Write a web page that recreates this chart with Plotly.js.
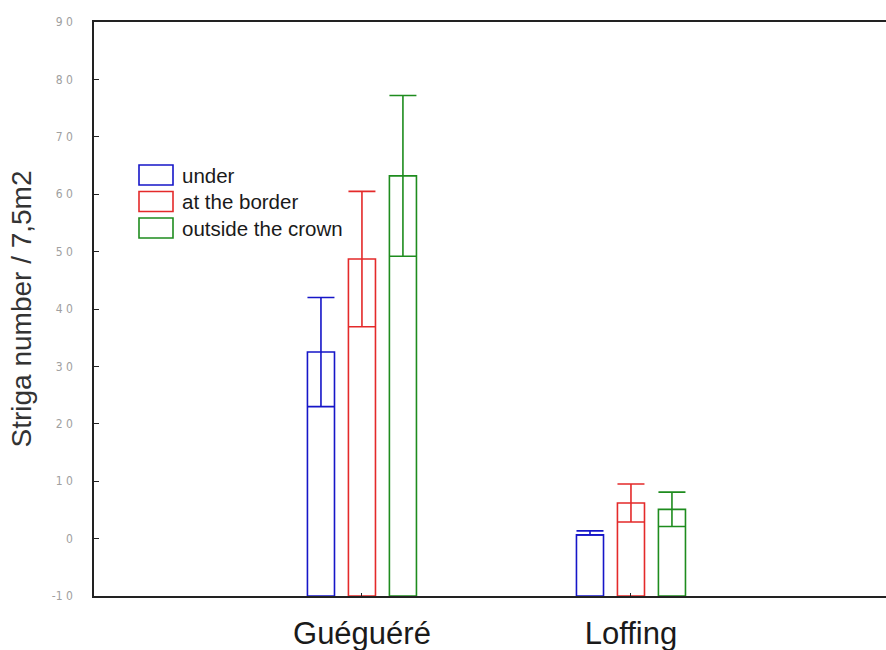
<!DOCTYPE html>
<html>
<head>
<meta charset="utf-8">
<script src="https://cdn.plot.ly/plotly-3.0.1.min.js"></script>
<style>html,body{margin:0;padding:0;background:#fff;}</style>
</head>
<body>
<div id="chart" style="width:886px;height:650px;"></div>
<script>
// Striga counts per 7.5 m² plot, by site and position relative to the tree crown
const sites = ['Guéguéré', 'Loffing'];
const positions = ['under', 'at the border', 'outside the crown'];

const meanUnder = [32.5, 0.65];
const meanBorder = [48.7, 6.2];
const meanOutside = [63.2, 5.1];

const errUnderPlus = [9.5, 0.7];
const errUnderMinus = [9.5, 0];
const errBorder = [11.8, 3.3];
const errOutside = [14.0, 3.0];

const yTickValues = [-10, 0, 10, 20, 30, 40, 50, 60, 70, 80, 90];
const yTickLabels = ['-1 0', '0', '1 0', '2 0', '3 0', '4 0', '5 0', '6 0', '7 0', '8 0', '9 0'];

const axisFloor = -10;
const colors = ['#1616c8', '#e42a2a', '#1e8c1e'];

function barTrace(name, means, plus, minus, color) {
  return {
    type: 'bar',
    name: name,
    x: sites,
    y: means.map(v => v - axisFloor),
    base: axisFloor,
    marker: { color: 'rgba(0,0,0,0)', line: { color: color, width: 1.6 } },
    error_y: {
      type: 'data', symmetric: false, array: plus, arrayminus: minus,
      color: color, thickness: 1.6, width: 13.5
    },
    hovertemplate: '%{x}<br>' + name + ': %{customdata}<extra></extra>',
    customdata: means
  };
}

const traces = [
  barTrace(positions[0], meanUnder, errUnderPlus, errUnderMinus, colors[0]),
  barTrace(positions[1], meanBorder, errBorder, errBorder, colors[1]),
  barTrace(positions[2], meanOutside, errOutside, errOutside, colors[2])
];

// legend drawn as outlined boxes with labels, in paper coordinates
const plotLeft = 94, plotRight = 886, plotTop = 22, plotBottom = 596;
const px = v => (v - plotLeft) / (plotRight - plotLeft);
const py = v => (plotBottom - v) / (plotBottom - plotTop);

const shapes = [];
const annotations = [];
positions.forEach((label, i) => {
  const top = 165 + i * 26.5;
  shapes.push({
    type: 'rect', xref: 'paper', yref: 'paper',
    x0: px(139), x1: px(173), y0: py(top + 20), y1: py(top),
    line: { color: colors[i], width: 1.6 }, fillcolor: 'rgba(0,0,0,0)'
  });
  annotations.push({
    xref: 'paper', yref: 'paper', x: px(180), y: py(top + 10),
    xanchor: 'left', yanchor: 'middle', showarrow: false, text: label,
    font: { family: 'Liberation Sans, Arial, sans-serif', size: 20.5, color: '#1a1a1a' }
  });
});

const layout = {
  width: 886, height: 650,
  margin: { l: plotLeft, r: 886 - plotRight, t: plotTop, b: 650 - plotBottom },
  paper_bgcolor: '#ffffff', plot_bgcolor: '#ffffff',
  showlegend: false,
  barmode: 'group', bargap: 0.543, bargroupgap: 0.34,
  xaxis: {
    type: 'category', range: [-0.996, 1.948],
    showgrid: false, zeroline: false,
    showline: true, linecolor: '#222', linewidth: 1.6, mirror: true,
    ticks: 'inside', ticklen: 3, tickwidth: 1.2, tickcolor: '#222',
    ticklabelstandoff: 9,
    tickfont: { family: 'Liberation Sans, Arial, sans-serif', size: 31, color: '#1a1a1a' }
  },
  yaxis: {
    range: [-10, 90], tickmode: 'array', tickvals: yTickValues, ticktext: yTickLabels,
    showgrid: false, zeroline: false,
    showline: true, linecolor: '#222', linewidth: 1.6,
    ticks: 'inside', ticklen: 5, tickwidth: 1.2, tickcolor: '#222',
    ticklabelstandoff: 17,
    tickfont: { family: 'Liberation Sans Narrow, DejaVu Sans Condensed, sans-serif', size: 12, color: '#a0a0a0' },
    title: {
      text: 'Striga number / 7,5m2', standoff: 12,
      font: { family: 'Liberation Sans, Arial, sans-serif', size: 28, color: '#333' }
    }
  },
  shapes: shapes,
  annotations: annotations
};

Plotly.newPlot('chart', traces, layout, { displayModeBar: false });
</script>
</body>
</html>
